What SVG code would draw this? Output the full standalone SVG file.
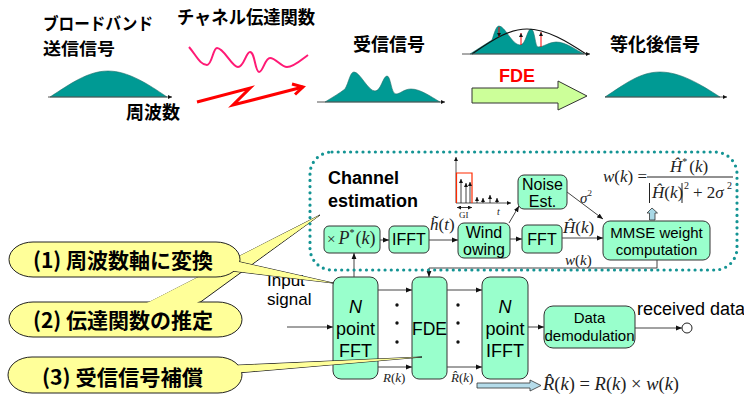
<svg xmlns="http://www.w3.org/2000/svg" width="744" height="394" viewBox="0 0 744 394">
<defs>
<style>
.jp{font-family:"Noto Sans CJK JP","Noto Sans CJK SC",sans-serif;font-weight:700;fill:#000}
.sa{font-family:"Liberation Sans",Arial,sans-serif;fill:#000}
.b{font-weight:700}
.m{font-family:"Liberation Serif","Times New Roman",serif;fill:#222}
.i{font-style:italic}
.box{fill:#99ffcc;stroke:#333;stroke-width:1}
.teal{fill:#009a94;stroke:#1f6f6a;stroke-width:0.6}
.ax{fill:none;stroke:#555;stroke-width:1}
.cw{fill:#ffff99;stroke:#222;stroke-width:1}
.cf{fill:#ffff99;stroke:none}
</style>
<marker id="a" viewBox="0 0 10 10" refX="10" refY="5" markerWidth="6" markerHeight="6" orient="auto-start-reverse" markerUnits="userSpaceOnUse"><path d="M0,1 L10,5 L0,9 z" fill="#111"/></marker>
<marker id="s" viewBox="0 0 10 10" refX="10" refY="5" markerWidth="4" markerHeight="4" orient="auto-start-reverse" markerUnits="userSpaceOnUse"><path d="M0,0 L10,5 L0,10 z" fill="#111"/></marker>
</defs>
<rect width="744" height="394" fill="#fff"/>

<g id="top-illustration">
<text class="jp" x="43" y="30" font-size="17" textLength="110" lengthAdjust="spacingAndGlyphs">ブロードバンド</text>
<text class="jp" x="43" y="55" font-size="17" textLength="72" lengthAdjust="spacingAndGlyphs">送信信号</text>
<path class="teal" d="M50,97 C70,84 88,71 108,71 C128,71 148,84 167,97 Z"/>
<path class="ax" d="M48,97 L172,97" marker-end="url(#s)"/>
<text class="jp" x="126" y="119" font-size="18">周波数</text>
<text class="jp" x="177" y="24" font-size="18" textLength="138" lengthAdjust="spacingAndGlyphs">チャネル伝達関数</text>
<path d="M189,47 C196,55 200,65 207,65 C212,65 213,48 217,48 C224,48 232,67 238,67 C244,67 246,52 250,52 C255,52 255,72 259,72 C263,72 265,58 270,58 C276,58 281,67 287,67 C294,67 301,60 308,55" fill="none" stroke="#ff1a75" stroke-width="2"/>
<polyline points="197,102 250,88 233,105 303,87" fill="none" stroke="#ff0000" stroke-width="3" stroke-linejoin="miter"/>
<polyline points="292,84 303,87 295,94.5" fill="none" stroke="#ff0000" stroke-width="3"/>
<text class="jp" x="353" y="51" font-size="18">受信信号</text>
<path class="teal" d="M325,102 C333,97 340,93 345,89 C349,82 350,72 354,72 C360,72 368,91 375,91 C381,91 383,76 387,76 C391,76 391,94 396,94 C400,94 404,89 411,89 C420,89 430,96 440,102 Z"/>
<path class="ax" d="M317,102 L445,102" marker-end="url(#s)"/>
<path class="teal" d="M470,54 L492,40 C494,34 496,26 499,26 C505,26 512,45 520,45 C526,45 527,29 531,29 C535,29 535,47 538,47 C544,47 549,42 556,42 C566,42 576,50 584,54 Z"/>
<path d="M472,54 C495,38 510,29 527,29 C547,29 568,42 586,54" fill="none" stroke="#111" stroke-width="1.2"/>
<path class="ax" d="M462,54 L590,54" marker-end="url(#s)"/>
<g stroke="#ff0000" stroke-width="1" fill="none">
<path d="M499,27 V37" marker-end="url(#s)"/>
<path d="M521,45 V33" marker-end="url(#s)"/>
<path d="M541,47 V32" marker-end="url(#s)"/>
</g>
<text class="sa b" x="499" y="82" font-size="18" style="fill:#ff0000">FDE</text>
<polygon points="472,88 558,88 558,81 587,96 558,110 558,103 472,103" fill="#ccff99" stroke="#333" stroke-width="1"/>
<text class="jp" x="610" y="51" font-size="18">等化後信号</text>
<path class="teal" d="M605,97 C625,84 640,72 660,72 C680,72 700,84 720,97 Z"/>
<path class="ax" d="M605,97 L727,97" marker-end="url(#s)"/>
</g>

<g id="n-fft">
<rect class="box" x="333" y="277" width="45" height="102" rx="8"/>
<text class="sa i" x="355.5" y="313" font-size="18" text-anchor="middle">N</text>
<text class="sa" x="355.5" y="335" font-size="18" text-anchor="middle">point</text>
<text class="sa" x="355.5" y="357" font-size="18" text-anchor="middle">FFT</text>
</g>
<g id="n-fde">
<rect class="box" x="412" y="277" width="35" height="102" rx="7"/>
<text class="sa" x="429.5" y="335" font-size="17.5" text-anchor="middle">FDE</text>
</g>
<g id="n-ifft">
<rect class="box" x="482" y="277" width="46" height="102" rx="8"/>
<text class="sa i" x="505" y="313" font-size="18" text-anchor="middle">N</text>
<text class="sa" x="505" y="335" font-size="18" text-anchor="middle">point</text>
<text class="sa" x="505" y="357" font-size="18" text-anchor="middle">IFFT</text>
</g>
<g id="n-demod">
<rect class="box" x="544" y="306" width="91" height="42" rx="9"/>
<text class="sa" x="589.5" y="323" font-size="15" text-anchor="middle">Data</text>
<text class="sa" x="589.5" y="341" font-size="15" text-anchor="middle">demodulation</text>
</g>
<g id="n-output">
<circle cx="687" cy="328" r="5" fill="#fff" stroke="#222" stroke-width="1"/>
<text class="sa" x="637" y="315" font-size="18">received data</text>
</g>
<g id="n-input">
<text class="sa" x="267" y="286" font-size="17">Input</text>
<text class="sa" x="267" y="305" font-size="17">signal</text>
</g>

<g id="n-mulp">
<rect class="box" x="324" y="226" width="56" height="27" rx="5"/>
<text class="m" x="327" y="244" font-size="15">×<tspan class="i" font-size="18" dx="3">P</tspan><tspan font-size="10" dy="-8">*</tspan><tspan font-size="18" dy="8" dx="1">(</tspan><tspan class="i" font-size="18">k</tspan><tspan font-size="18">)</tspan></text>
</g>
<g id="n-ifft2">
<rect class="box" x="389" y="226" width="40" height="27" rx="5"/>
<text class="sa" x="409" y="245" font-size="16" text-anchor="middle">IFFT</text>
</g>
<g id="n-wind">
<rect class="box" x="458" y="223" width="52" height="35" rx="6"/>
<text class="sa" x="484" y="238" font-size="16" text-anchor="middle">Wind</text>
<text class="sa" x="484" y="255" font-size="16" text-anchor="middle">owing</text>
</g>
<g id="n-fft2">
<rect class="box" x="522" y="225" width="40" height="28" rx="5"/>
<text class="sa" x="542" y="245" font-size="16" text-anchor="middle">FFT</text>
</g>
<g id="n-noise">
<rect class="box" x="518" y="175" width="49" height="34" rx="6"/>
<text class="sa" x="542.5" y="190" font-size="16" text-anchor="middle">Noise</text>
<text class="sa" x="542.5" y="207" font-size="16" text-anchor="middle">Est.</text>
</g>
<g id="n-mmse">
<rect class="box" x="603" y="221" width="107" height="39" rx="7"/>
<text class="sa" x="656.5" y="238" font-size="15" text-anchor="middle">MMSE weight</text>
<text class="sa" x="656.5" y="255" font-size="15" text-anchor="middle">computation</text>
</g>

<g id="impulse-plot">
<path class="ax" d="M456,203 V157" marker-end="url(#s)"/>
<path class="ax" d="M456,203 H511" marker-end="url(#s)"/>
<path d="M456.5,203 V173 H472 V203" fill="none" stroke="#ff2a00" stroke-width="1.2"/>
<g stroke="#111" stroke-width="0.8" fill="none">
<path d="M461,203 V179" marker-end="url(#s)"/>
<path d="M466,203 V183" marker-end="url(#s)"/>
<path d="M470,203 V182" marker-end="url(#s)"/>
<path d="M477,203 V197" marker-end="url(#s)"/>
<path d="M483,203 V198" marker-end="url(#s)"/>
<path d="M490,203 V195" marker-end="url(#s)"/>
<path d="M497,203 V198" marker-end="url(#s)"/>
<path d="M457,207.5 H472" marker-start="url(#s)" marker-end="url(#s)"/>
</g>
<text class="m" x="459" y="218" font-size="9">GI</text>
<text class="m i" x="497" y="215" font-size="10">t</text>
</g>

<g id="formula">
<text class="m" x="603" y="182" font-size="17"><tspan class="i">w</tspan>(<tspan class="i">k</tspan>) =</text>
<text class="m" x="670" y="172" font-size="17"><tspan class="i">Ĥ</tspan><tspan font-size="10" dy="-7">*</tspan><tspan dy="7" dx="2">(</tspan><tspan class="i">k</tspan>)</text>
<path d="M647,177 H733" stroke="#222" stroke-width="1"/>
<path d="M649.5,183 V203 M682,183 V203" stroke="#222" stroke-width="1"/>
<text class="m" x="652" y="198" font-size="17"><tspan class="i">Ĥ</tspan>(<tspan class="i">k</tspan>)</text>
<text class="m" x="684" y="189" font-size="10">2</text>
<text class="m" x="693" y="198" font-size="17">+ 2<tspan class="i">σ</tspan></text>
<text class="m" x="727" y="189" font-size="10">2</text>
<polygon points="652,208 657.5,213 655,213 655,220 649.5,220 649.5,213 647,213" fill="#a9d8e6" stroke="#333" stroke-width="0.8"/>
</g>

<g id="connectors" fill="none" stroke="#444" stroke-width="1">
<path d="M287,327 H333" marker-end="url(#a)"/>
<path d="M378,290 H412" marker-end="url(#a)"/>
<path d="M378,367 H412" marker-end="url(#a)"/>
<path d="M447,290 H482" marker-end="url(#a)"/>
<path d="M447,367 H482" marker-end="url(#a)"/>
<path d="M528,327 H544" marker-end="url(#a)"/>
<path d="M635,328 H682" marker-end="url(#a)"/>
<path d="M354,277 V253" marker-end="url(#a)"/>
<path d="M380,240 H389" marker-end="url(#a)"/>
<path d="M429,240 H458" marker-end="url(#a)"/>
<path d="M510,239 H522" marker-end="url(#a)"/>
<path d="M562,238 H603" marker-end="url(#a)"/>
<path d="M509,223 L519,206" marker-end="url(#a)"/>
<path d="M567,192 L603,219" marker-end="url(#a)"/>
<path d="M657,260 V268 H429 V277" marker-end="url(#a)"/>
<polygon points="477,383 530,383 530,380 541,385.5 530,391 530,388 477,388" fill="#b5dcea" stroke="#333" stroke-width="0.8"/>
</g>
<g id="dots" fill="#111">
<circle cx="397" cy="305" r="1.7"/><circle cx="397" cy="323" r="1.7"/><circle cx="397" cy="342" r="1.7"/>
<circle cx="458" cy="305" r="1.7"/><circle cx="458" cy="323" r="1.7"/><circle cx="458" cy="342" r="1.7"/>
</g>
<g id="labels">
<text class="m" x="430" y="230" font-size="17"><tspan class="i">h̃</tspan>(<tspan class="i">t</tspan>)</text>
<text class="m" x="563" y="233" font-size="17"><tspan class="i">Ĥ</tspan>(<tspan class="i">k</tspan>)</text>
<text class="m" x="580" y="203" font-size="15"><tspan class="i">σ</tspan><tspan font-size="9" dy="-7">2</tspan></text>
<text class="m" x="565" y="265" font-size="15"><tspan class="i">w</tspan>(<tspan class="i">k</tspan>)</text>
<text class="m" x="383" y="382" font-size="13"><tspan class="i">R</tspan>(<tspan class="i">k</tspan>)</text>
<text class="m" x="451" y="382" font-size="13"><tspan class="i">R̂</tspan>(<tspan class="i">k</tspan>)</text>
<text class="m" x="543" y="390" font-size="18.5"><tspan class="i">R̂</tspan>(<tspan class="i">k</tspan>) = <tspan class="i">R</tspan>(<tspan class="i">k</tspan>) × <tspan class="i">w</tspan>(<tspan class="i">k</tspan>)</text>
</g>

<g id="callout-2">
<polygon class="cw" points="142,306 320,215 195,306"/>
<rect class="cw" x="9" y="302" width="233" height="35" rx="24" ry="17.5"/>
<polygon class="cf" points="143,305 320,215 194,305"/>
<text class="jp" x="33" y="328" font-size="21" textLength="180" lengthAdjust="spacingAndGlyphs">(2) 伝達関数の推定</text>
</g>
<g id="callout-1">
<polygon class="cw" points="225,258.6 333,283 225,270.2"/>
<rect class="cw" x="9" y="242" width="231" height="35" rx="24" ry="17.5"/>
<polygon class="cf" points="226,259 333,283 226,270"/>
<text class="jp" x="33" y="268" font-size="21" textLength="180" lengthAdjust="spacingAndGlyphs">(1) 周波数軸に変換</text>
</g>
<g id="callout-3">
<polygon class="cw" points="225,365.7 422,357 225,374"/>
<rect class="cw" x="8" y="357" width="234" height="36" rx="24" ry="18"/>
<polygon class="cf" points="226,366 422,357 226,373.5"/>
<text class="jp" x="42" y="385" font-size="21" textLength="161" lengthAdjust="spacingAndGlyphs">(3) 受信信号補償</text>
</g>

<g id="channel-estimation">
<rect x="310" y="152" width="427" height="118" rx="22" fill="none" stroke="#149494" stroke-width="3.2" stroke-dasharray="0 6.2" stroke-linecap="round"/>
<text class="sa b" x="328" y="184" font-size="18">Channel</text>
<text class="sa b" x="328" y="207" font-size="18">estimation</text>
</g>
</svg>
